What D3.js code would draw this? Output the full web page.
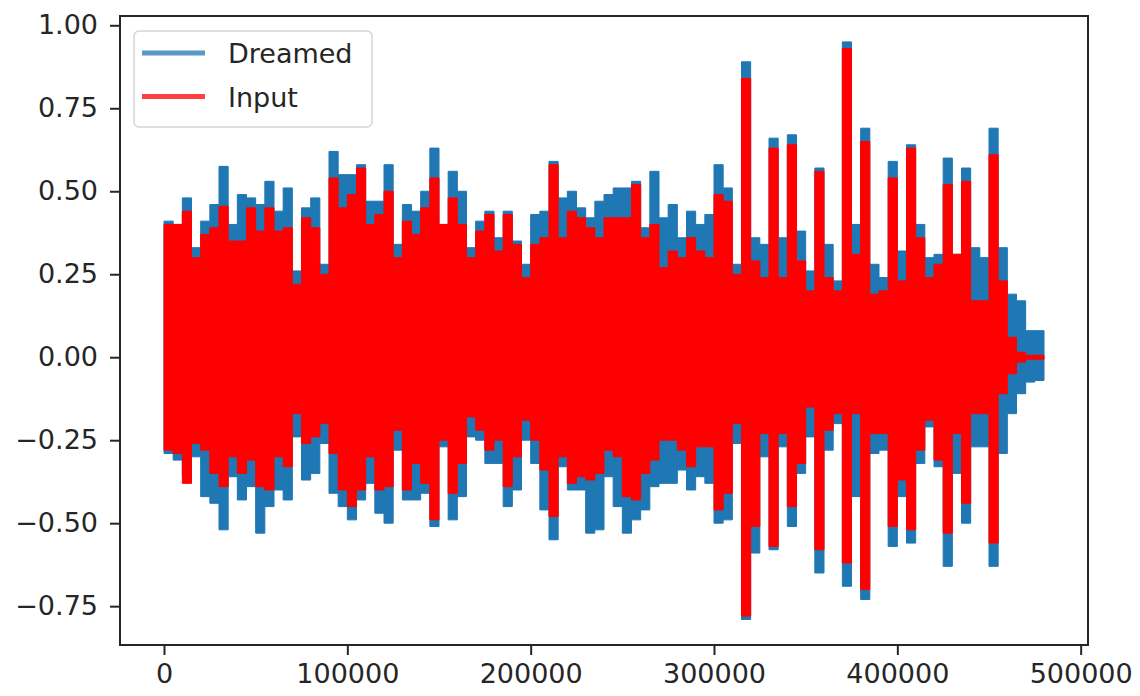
<!DOCTYPE html>
<html>
<head>
<meta charset="utf-8">
<script src="https://cdn.jsdelivr.net/npm/d3@7"></script>
<style>
  body { margin: 0; background: #fff; }
  text { font-family: "DejaVu Sans", sans-serif; }
</style>
</head>
<body>
<script>
// Width and height of svg
var w = 1140;
var h = 696;

// Waveform envelopes, one value per block of 5000 samples
var blockSize = 5000;
var lastSample = 480000;

var dreamedMax = [0.41, 0.40, 0.48, 0.33, 0.41, 0.46, 0.575, 0.40, 0.49, 0.48,
                  0.46, 0.53, 0.44, 0.51, 0.26, 0.45, 0.48, 0.28, 0.62, 0.55,
                  0.55, 0.58, 0.47, 0.47, 0.58, 0.34, 0.46, 0.44, 0.50, 0.63,
                  0.40, 0.56, 0.50, 0.33, 0.41, 0.44, 0.36, 0.44, 0.35, 0.28,
                  0.43, 0.44, 0.59, 0.48, 0.50, 0.45, 0.42, 0.47, 0.49, 0.51,
                  0.51, 0.53, 0.39, 0.56, 0.42, 0.46, 0.36, 0.44, 0.40, 0.43,
                  0.58, 0.51, 0.28, 0.89, 0.36, 0.34, 0.66, 0.36, 0.67, 0.38,
                  0.26, 0.57, 0.34, 0.23, 0.95, 0.40, 0.69, 0.28, 0.24, 0.59,
                  0.32, 0.64, 0.40, 0.30, 0.31, 0.60, 0.31, 0.57, 0.33, 0.30,
                  0.69, 0.33, 0.19, 0.17, 0.08, 0.08];
var dreamedMin = [-0.29, -0.31, -0.36, -0.30, -0.42, -0.44, -0.52, -0.36, -0.43, -0.39,
                  -0.53, -0.45, -0.40, -0.43, -0.24, -0.37, -0.35, -0.26, -0.41, -0.45,
                  -0.49, -0.43, -0.38, -0.47, -0.50, -0.28, -0.43, -0.43, -0.41, -0.51,
                  -0.27, -0.49, -0.42, -0.24, -0.25, -0.32, -0.32, -0.45, -0.40, -0.25,
                  -0.32, -0.46, -0.55, -0.33, -0.40, -0.40, -0.53, -0.52, -0.36, -0.45,
                  -0.53, -0.49, -0.46, -0.39, -0.38, -0.38, -0.34, -0.40, -0.36, -0.38,
                  -0.50, -0.49, -0.26, -0.79, -0.59, -0.30, -0.58, -0.27, -0.51, -0.35,
                  -0.24, -0.65, -0.28, -0.20, -0.69, -0.42, -0.73, -0.29, -0.28, -0.57,
                  -0.42, -0.56, -0.32, -0.21, -0.33, -0.63, -0.35, -0.50, -0.27, -0.27,
                  -0.63, -0.29, -0.17, -0.11, -0.075, -0.07];
var inputMax = [0.40, 0.40, 0.44, 0.30, 0.37, 0.39, 0.455, 0.35, 0.35, 0.45,
                0.38, 0.45, 0.38, 0.39, 0.22, 0.42, 0.39, 0.25, 0.54, 0.45,
                0.49, 0.57, 0.40, 0.43, 0.50, 0.30, 0.41, 0.37, 0.45, 0.54,
                0.40, 0.48, 0.40, 0.30, 0.38, 0.43, 0.32, 0.43, 0.34, 0.24,
                0.34, 0.36, 0.58, 0.36, 0.44, 0.42, 0.39, 0.36, 0.42, 0.42,
                0.42, 0.52, 0.36, 0.40, 0.27, 0.32, 0.30, 0.36, 0.32, 0.30,
                0.49, 0.47, 0.25, 0.84, 0.29, 0.24, 0.63, 0.24, 0.64, 0.29,
                0.20, 0.56, 0.24, 0.20, 0.93, 0.31, 0.65, 0.19, 0.20, 0.54,
                0.23, 0.63, 0.36, 0.24, 0.28, 0.52, 0.31, 0.53, 0.17, 0.17,
                0.61, 0.23, 0.06, 0.015, 0.006, 0.006];
var inputMin = [-0.28, -0.29, -0.38, -0.26, -0.28, -0.35, -0.39, -0.30, -0.35, -0.31,
                -0.39, -0.40, -0.30, -0.33, -0.17, -0.26, -0.24, -0.20, -0.29, -0.40,
                -0.45, -0.40, -0.30, -0.40, -0.39, -0.22, -0.40, -0.32, -0.38, -0.49,
                -0.25, -0.41, -0.32, -0.18, -0.22, -0.28, -0.25, -0.39, -0.30, -0.19,
                -0.25, -0.34, -0.48, -0.30, -0.38, -0.36, -0.37, -0.35, -0.28, -0.30,
                -0.42, -0.43, -0.35, -0.31, -0.25, -0.25, -0.28, -0.33, -0.27, -0.27,
                -0.46, -0.41, -0.20, -0.78, -0.51, -0.23, -0.57, -0.23, -0.45, -0.32,
                -0.15, -0.58, -0.22, -0.17, -0.62, -0.17, -0.70, -0.23, -0.23, -0.51,
                -0.37, -0.52, -0.28, -0.19, -0.31, -0.53, -0.23, -0.44, -0.17, -0.17,
                -0.56, -0.11, -0.05, -0.015, -0.006, -0.006];

// Tick values and labels
var xTicks = [0, 100000, 200000, 300000, 400000, 500000];
var yTicks = [-0.75, -0.50, -0.25, 0.00, 0.25, 0.50, 0.75, 1.00];

// Series names and colours
var seriesNames = ["Dreamed", "Input"];
var seriesColors = ["#1f77b4", "#ff0000"];
var legendColors = ["#5799c7", "#ff4040"];

// Plot box
var margin = {top: 16, right: 52, bottom: 51, left: 120};
var plotW = w - margin.left - margin.right;
var plotH = h - margin.top - margin.bottom;

var svg = d3.select("body")
        .append("svg")
        .attr("width", w)
        .attr("height", h);

var x = d3.scaleLinear()
    .domain([-24000, 504000])
    .range([margin.left, margin.left + plotW]);

var y = d3.scaleLinear()
    .domain([-0.867, 1.028])
    .range([margin.top + plotH, margin.top]);

// Build step points from the envelope arrays
function toPoints(hi, lo) {
    var pts = hi.map(function(v, i) {
        return {s: i * blockSize, hi: v, lo: lo[i]};
    });
    pts.push({s: lastSample, hi: hi[hi.length - 1], lo: lo[lo.length - 1]});
    return pts;
}

var area = d3.area()
    .curve(d3.curveStepAfter)
    .x(function(d) { return x(d.s); })
    .y0(function(d) { return y(d.lo); })
    .y1(function(d) { return y(d.hi); });

var series = [toPoints(dreamedMax, dreamedMin), toPoints(inputMax, inputMin)];

svg.append("g")
    .selectAll("path")
    .data(series)
    .enter()
    .append("path")
    .attr("d", area)
    .attr("fill", function(d, i) { return seriesColors[i]; })
    .attr("stroke", function(d, i) { return seriesColors[i]; })
    .attr("stroke-width", 1);

// Axes
var xAxis = svg.append("g")
    .attr("transform", "translate(0," + (margin.top + plotH) + ")")
    .call(d3.axisBottom(x).tickValues(xTicks).tickSize(10).tickPadding(9)
        .tickFormat(d3.format("d")));

var yAxis = svg.append("g")
    .attr("transform", "translate(" + margin.left + ",0)")
    .call(d3.axisLeft(y).tickValues(yTicks).tickSize(10).tickPadding(12)
        .tickFormat(function(d) { return d3.format(".2f")(d).replace("-", "\u2212"); }));

[xAxis, yAxis].forEach(function(g) {
    g.select(".domain").remove();
    g.selectAll(".tick line").attr("stroke", "#262626").attr("stroke-width", 2);
    g.selectAll(".tick text")
        .attr("fill", "#262626")
        .style("font-size", "27px")
        .style("font-family", "DejaVu Sans");
});

// Spines
svg.append("rect")
    .attr("x", margin.left)
    .attr("y", margin.top)
    .attr("width", plotW)
    .attr("height", plotH)
    .attr("fill", "none")
    .attr("stroke", "#262626")
    .attr("stroke-width", 2);

// Legend
var legend = svg.append("g").attr("transform", "translate(134,31)");

legend.append("rect")
    .attr("width", 238)
    .attr("height", 96)
    .attr("rx", 5)
    .attr("fill", "#fff")
    .attr("fill-opacity", 0.8)
    .attr("stroke", "#d6d6d6")
    .attr("stroke-width", 1.5);

var items = legend.selectAll("g.item")
    .data(seriesNames)
    .enter()
    .append("g")
    .attr("class", "item")
    .attr("transform", function(d, i) { return "translate(0," + (22 + i * 43.5) + ")"; });

items.append("line")
    .attr("x1", 8)
    .attr("x2", 71)
    .attr("stroke", function(d, i) { return legendColors[i]; })
    .attr("stroke-width", 5);

items.append("text")
    .attr("x", 94)
    .attr("y", 10)
    .attr("fill", "#262626")
    .style("font-size", "27px")
    .text(function(d) { return d; });
</script>
</body>
</html>
